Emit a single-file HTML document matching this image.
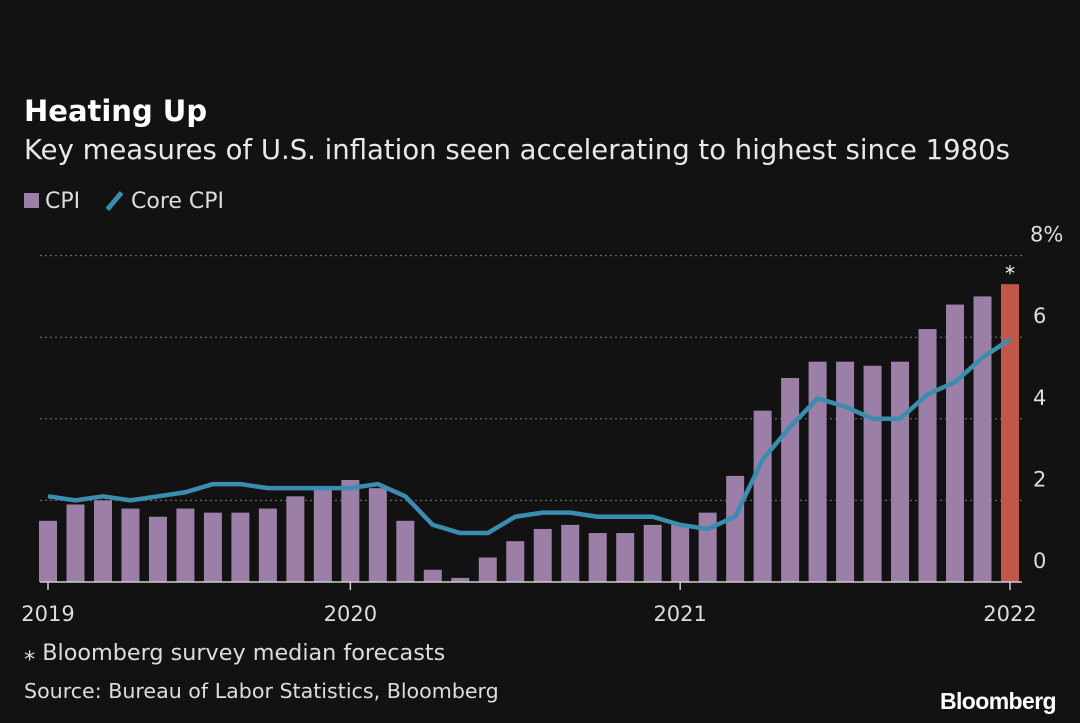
<!DOCTYPE html>
<html><head><meta charset="utf-8">
<style>
body{margin:0;background:#121212;width:1080px;height:723px;overflow:hidden;font-family:"DejaVu Sans","Liberation Sans",sans-serif;color:#e8e8e8}
.t{position:absolute;white-space:nowrap}
</style></head><body>
<div class="t" style="left:24px;top:94px;font-size:29px;font-weight:bold;color:#fff">Heating Up</div>
<div class="t" style="left:24px;top:134px;font-size:27.5px;color:#e8e8e8">Key measures of U.S. inflation seen accelerating to highest since 1980s</div>
<div class="t" style="left:24px;top:189px;font-size:22px;color:#ddd"><span style="display:inline-block;width:15px;height:15px;background:#9b7fa6;margin-right:6px"></span>CPI</div>
<div class="t" style="left:104px;top:189px;font-size:22px;color:#ddd"><span style="display:inline-block;width:5px;height:22px;background:#3b8db0;transform:rotate(40deg);margin:0 14px -4px 8px"></span>Core CPI</div>
<svg id="c" width="1080" height="723" style="position:absolute;left:0;top:0"></svg>
<div class="t" style="left:24px;top:640px;font-size:22.3px;color:#ddd">⁎ Bloomberg survey median forecasts</div>
<div class="t" style="left:24px;top:679px;font-size:20.6px;color:#ddd">Source: Bureau of Labor Statistics, Bloomberg</div>
<div class="t" style="left:940px;top:688px;font-family:'Liberation Sans',sans-serif;font-size:23px;font-weight:bold;color:#fff;letter-spacing:-0.6px">Bloomberg</div>
<script>
const cpi=[1.5,1.9,2.0,1.8,1.6,1.8,1.7,1.7,1.8,2.1,2.3,2.5,2.3,1.5,0.3,0.1,0.6,1.0,1.3,1.4,1.2,1.2,1.4,1.4,1.7,2.6,4.2,5.0,5.4,5.4,5.3,5.4,6.2,6.8,7.0,7.3];
const core=[2.1,2.0,2.1,2.0,2.1,2.2,2.4,2.4,2.3,2.3,2.3,2.3,2.4,2.1,1.4,1.2,1.2,1.6,1.7,1.7,1.6,1.6,1.6,1.4,1.3,1.6,3.0,3.8,4.5,4.3,4.0,4.0,4.6,4.9,5.5,5.95];
const yTicks=[0,2,4,6,8];
const yLabels=["0","2","4","6","8%"];
const xTickIdx=[0,11,23,35];
const xLabels=["2019","2020","2021","2022"];
const forecastIdx=35;
const svg=document.getElementById('c');const NS='http://www.w3.org/2000/svg';
const x=i=>48+i*(1010-48)/(cpi.length-1);
const y=v=>582-v*40.8;
function mk(t,a){const e=document.createElementNS(NS,t);for(const k in a)e.setAttribute(k,a[k]);svg.appendChild(e);return e;}
yTicks.forEach((v,i)=>{
 if(v>0){const g=mk('line',{x1:40,x2:1022,y1:y(v),y2:y(v),stroke:'#777','stroke-dasharray':'2,3','stroke-width':1});
 
 }
 const t=mk('text',{x:v==8?1030:1033,y:y(v)-14,fill:'#ddd','font-size':21,'font-family':'DejaVu Sans'});
 
 
 t.textContent=yLabels[i];
});
cpi.forEach((v,i)=>{
 const r=mk('rect',{x:x(i)-9,y:y(v),width:18,height:582-y(v),fill:i==forecastIdx?'#c0584a':'#9b7fa6'});
 
 
});
const st=mk('text',{x:x(forecastIdx),y:y(cpi[forecastIdx])-10,fill:'#fff','font-size':20,'text-anchor':'middle','font-family':'DejaVu Sans'});


st.textContent='⁎';
const base=mk('line',{x1:40,x2:1022,y1:582,y2:582,stroke:'#ccc','stroke-width':1.5});


xTickIdx.forEach((k,i)=>{
 const l=mk('line',{x1:x(k),x2:x(k),y1:582,y2:590,stroke:'#ccc','stroke-width':1.5});
 
 
 const t=mk('text',{x:x(k),y:621,fill:'#ddd','font-size':21,'text-anchor':'middle','font-family':'DejaVu Sans'});
 
 
 t.textContent=xLabels[i];
});
const p=mk('polyline',{points:core.map((v,i)=>x(i)+','+y(v)).join(' '),fill:'none',stroke:'#3b8db0','stroke-width':4.5,'stroke-linejoin':'round'});


</script>
</body></html>
